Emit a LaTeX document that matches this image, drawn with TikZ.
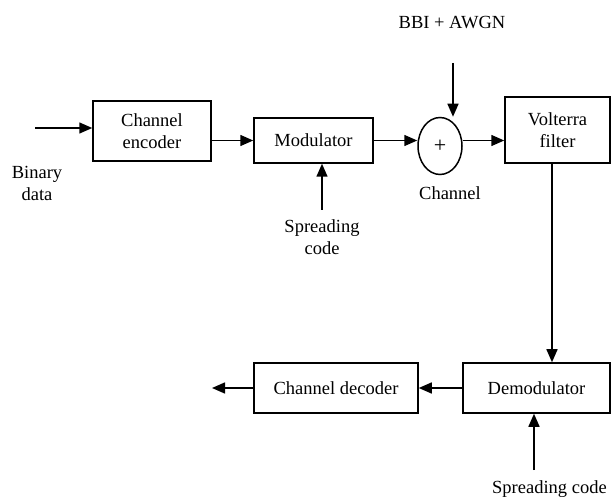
\documentclass[tikz,border=0pt]{standalone}
\usepackage{fontspec}
\setmainfont{Liberation Serif}
\usetikzlibrary{arrows.meta,shapes.geometric}
\begin{document}
\begin{tikzpicture}[x=1pt,y=-1pt,
  font=\fontsize{18.5}{22}\selectfont,
  blk/.style={draw,line width=1.5pt,rectangle,inner sep=0pt,align=center},
  lbl/.style={inner sep=0pt,align=center},
  arr/.style={line width=1.5pt,-{Triangle[length=13pt,width=11pt]}}]
\useasboundingbox (0,0) rectangle (611,497);
\node[blk,minimum width=118pt,minimum height=60pt] (enc) at (152,131) {Channel\\encoder};
\node[blk,minimum width=119pt,minimum height=45pt] (mod) at (313.5,140.5) {Modulator};
\node[draw,line width=1.5pt,ellipse,minimum width=44pt,minimum height=57pt,inner sep=0pt,font=\fontsize{22}{24}\selectfont] (sum) at (440,146) {+};
\node[blk,minimum width=105pt,minimum height=66pt] (volt) at (557.5,130) {Volterra\\filter};
\node[blk,minimum width=147pt,minimum height=50pt] (dem) at (536.5,388) {Demodulator};
\node[blk,minimum width=164pt,minimum height=50pt] (dec) at (336,388) {Channel decoder};
\node[lbl] (bin) at (37,183) {Binary\\data};
\node[lbl] (bbi) at (452,23) {BBI + AWGN};
\node[lbl] (chl) at (450,193) {Channel};
\node[lbl,anchor=north] (sc1) at (322,219) {Spreading\\code};
\node[lbl,anchor=west] (sc2) at (492,489) {Spreading code};
\coordinate (in) at (35,128);
\coordinate (nz) at (453,63);
\coordinate (out) at (212,388);
\coordinate (s1) at (322,210);
\coordinate (s2) at (534,470);
\draw[arr] (in) -- (in -| enc.west);
\draw[arr] (enc.east |- mod.west) -- (mod.west);
\draw[arr] (mod.east) -- (sum.west |- mod.east);
\draw[arr] (sum.east |- mod.east) -- (volt.west |- mod.east);
\draw[arr] (nz) -- (nz |- sum.north);
\draw[arr] (s1) -- (s1 |- mod.south);
\draw[arr] ([xshift=-5.5pt]volt.south) -- ([xshift=-5.5pt]volt.south |- dem.north);
\draw[arr] (dem.west) -- (dec.east);
\draw[arr] (dec.west) -- (out);
\draw[arr] (s2) -- (s2 |- dem.south);
\end{tikzpicture}
\end{document}
